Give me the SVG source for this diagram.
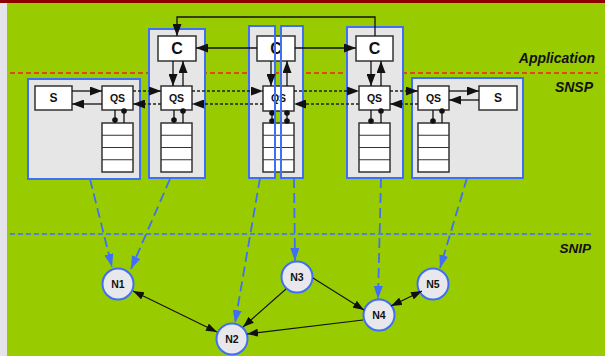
<svg xmlns="http://www.w3.org/2000/svg" width="605" height="356" viewBox="0 0 605 356">
  <defs>
    <style>
      .bg { fill: #99cc00; }
      .panel { fill: #e6e6e6; stroke: none; }
      .edge { fill: none; stroke: #3f6ff5; stroke-width: 2; }
      .blk { fill: #ffffff; stroke: #333333; stroke-width: 1.5; }
      .cell { fill: none; stroke: #333333; stroke-width: 1.2; }
      .lbl { font-family: "Liberation Sans", Arial, sans-serif; font-weight: bold; fill: #111111; text-anchor: middle; }
      .layer { font-family: "Liberation Sans", Arial, sans-serif; font-weight: bold; font-style: italic; font-size: 14px; fill: #111111; text-anchor: end; }
      .solid { fill: none; stroke: #111111; stroke-width: 1.3; }
      .dot { fill: none; stroke: #222222; stroke-width: 1.3; stroke-dasharray: 3 2; }
      .map { fill: none; stroke: #3f6ff5; stroke-width: 1.8; stroke-dasharray: 10 5; }
      .net { fill: none; stroke: #111111; stroke-width: 1.1; }
      .node { fill: #e8e8ec; stroke: #3f6ff5; stroke-width: 2; }
      .pin { fill: #111111; }
    </style>
    <marker id="ah" viewBox="0 0 12 9" refX="12" refY="4.5" markerWidth="12" markerHeight="9" markerUnits="userSpaceOnUse" orient="auto-start-reverse">
      <path d="M0,0 L12,4.5 L0,9 z" fill="#111111"/>
    </marker>
    <marker id="ahs" viewBox="0 0 11 8" refX="11" refY="4" markerWidth="11" markerHeight="8" markerUnits="userSpaceOnUse" orient="auto-start-reverse">
      <path d="M0,0 L11,4 L0,8 z" fill="#111111"/>
    </marker>
    <marker id="ahb" viewBox="0 0 13 9" refX="13" refY="4.5" markerWidth="13" markerHeight="9" markerUnits="userSpaceOnUse" orient="auto">
      <path d="M0,0 L13,4.5 L0,9 z" fill="#3f6ff5"/>
    </marker>
  </defs>

  <!-- page background -->
  <rect x="0" y="0" width="605" height="356" fill="#e4e4ea"/>
  <rect x="7" y="2" width="598" height="354" class="bg"/>
  <rect x="0" y="0" width="605" height="3" fill="#8b0000"/>

  <!-- layer separators and names -->
  <line x1="10" y1="73" x2="598" y2="73" stroke="#ee2222" stroke-width="1.4" stroke-dasharray="5 3"/>
  <line x1="10" y1="234" x2="594" y2="234" stroke="#3f6ff5" stroke-width="1.3" stroke-dasharray="5 3"/>
  <text class="layer" x="595" y="63">Application</text>
  <text class="layer" x="593" y="92">SNSP</text>
  <text class="layer" x="591" y="253" style="font-size:13.5px">SNIP</text>

  <!-- panel backgrounds -->
  <rect class="panel" x="28" y="79" width="112" height="100"/>
  <rect class="panel" x="149" y="29" width="56" height="149"/>
  <rect class="panel" x="249" y="26" width="26" height="152"/>
  <rect class="panel" x="281" y="26" width="22" height="152"/>
  <rect class="panel" x="347" y="27" width="56" height="151"/>
  <rect class="panel" x="412" y="78" width="111" height="100"/>

  <!-- left sensor panel -->
  <g id="sensor-left">
    <rect class="edge" x="28" y="79" width="112" height="100"/>
    <rect class="blk" x="35" y="86" width="37" height="24"/>
    <text class="lbl" x="53.5" y="102" style="font-size:12px">S</text>
    <rect class="blk" x="102" y="86" width="31" height="24"/>
    <text class="lbl" x="117.5" y="101.5" style="font-size:10.5px">QS</text>
    <rect class="blk" x="102" y="123" width="31" height="49"/>
    <path class="cell" d="M102,135.25 H133 M102,147.5 H133 M102,159.75 H133"/>
    <path class="solid" d="M115,110 V123 M124,110 V123"/>
    <circle class="pin" cx="115" cy="120" r="2.8"/>
    <circle class="pin" cx="124" cy="111" r="2.8"/>
  </g>

  <!-- left consumer column -->
  <g id="consumer-left">
    <rect class="edge" x="149" y="29" width="56" height="149"/>
    <rect class="blk" x="158" y="36" width="38" height="25"/>
    <text class="lbl" x="177" y="54" style="font-size:16px">C</text>
    <rect class="blk" x="161" y="86" width="31" height="24"/>
    <text class="lbl" x="176.5" y="101.5" style="font-size:10.5px">QS</text>
    <rect class="blk" x="161" y="123" width="31" height="49"/>
    <path class="cell" d="M161,135.25 H192 M161,147.5 H192 M161,159.75 H192"/>
    <path class="solid" d="M174,110 V123 M183,110 V123"/>
    <circle class="pin" cx="174" cy="120" r="2.8"/>
    <circle class="pin" cx="183" cy="111" r="2.8"/>
  </g>

  <!-- middle consumer column (split panel) -->
  <g id="consumer-mid">
    <rect class="blk" x="257" y="36" width="38" height="25"/>
    <text class="lbl" x="276" y="54" style="font-size:16px">C</text>
    <rect class="blk" x="263" y="86" width="31" height="25"/>
    <text class="lbl" x="278.5" y="102" style="font-size:10.5px">QS</text>
    <rect class="blk" x="263" y="123" width="31" height="49"/>
    <path class="cell" d="M263,135.25 H294 M263,147.5 H294 M263,159.75 H294"/>
    <path class="solid" d="M272,111 V123 M287,111 V123"/>
    <circle class="pin" cx="272" cy="113" r="2.8"/>
    <circle class="pin" cx="272" cy="121" r="2.8"/>
    <circle class="pin" cx="287" cy="113" r="2.8"/>
    <circle class="pin" cx="287" cy="121" r="2.8"/>
    <rect class="edge" x="249" y="26" width="26" height="152"/>
    <rect class="edge" x="281" y="26" width="22" height="152"/>
  </g>

  <!-- right consumer column -->
  <g id="consumer-right">
    <rect class="edge" x="347" y="27" width="56" height="151"/>
    <rect class="blk" x="356" y="36" width="37" height="25"/>
    <text class="lbl" x="374.5" y="54" style="font-size:16px">C</text>
    <rect class="blk" x="359" y="86" width="31" height="24"/>
    <text class="lbl" x="374.5" y="101.5" style="font-size:10.5px">QS</text>
    <rect class="blk" x="359" y="123" width="31" height="49"/>
    <path class="cell" d="M359,135.25 H390 M359,147.5 H390 M359,159.75 H390"/>
    <path class="solid" d="M371,110 V123 M381,110 V123"/>
    <circle class="pin" cx="371" cy="121" r="2.8"/>
    <circle class="pin" cx="381" cy="111" r="2.8"/>
  </g>

  <!-- right sensor panel -->
  <g id="sensor-right">
    <rect class="edge" x="412" y="78" width="111" height="100"/>
    <rect class="blk" x="418" y="86" width="31" height="24"/>
    <text class="lbl" x="433.5" y="101.5" style="font-size:10.5px">QS</text>
    <rect class="blk" x="479" y="86" width="38" height="24"/>
    <text class="lbl" x="498" y="102" style="font-size:12px">S</text>
    <rect class="blk" x="418" y="123" width="31" height="49"/>
    <path class="cell" d="M418,135.25 H449 M418,147.5 H449 M418,159.75 H449"/>
    <path class="solid" d="M433,110 V123 M442,110 V123"/>
    <circle class="pin" cx="433" cy="121" r="2.8"/>
    <circle class="pin" cx="442" cy="111" r="2.8"/>
  </g>

  <!-- network nodes -->
  <g id="N1"><circle class="node" cx="118" cy="284" r="15.5"/><text class="lbl" x="118" y="288" style="font-size:10.5px">N1</text></g>
  <g id="N2"><circle class="node" cx="232" cy="339" r="15.5"/><text class="lbl" x="232" y="343" style="font-size:10.5px">N2</text></g>
  <g id="N3"><circle class="node" cx="297" cy="277" r="15.5"/><text class="lbl" x="297" y="281" style="font-size:10.5px">N3</text></g>
  <g id="N4"><circle class="node" cx="379" cy="315" r="15.5"/><text class="lbl" x="379" y="319" style="font-size:10.5px">N4</text></g>
  <g id="N5"><circle class="node" cx="433" cy="284" r="15.5"/><text class="lbl" x="433" y="288" style="font-size:10.5px">N5</text></g>

  <g id="connectors">
    <!-- consumer control links -->
    <path class="solid" d="M375,36 V17 H177 V36" marker-end="url(#ah)"/>
    <path class="solid" d="M257,48 H196" marker-end="url(#ah)"/>
    <path class="solid" d="M295,48 H356" marker-end="url(#ah)"/>
    <!-- C / QS links -->
    <path class="solid" d="M173,61 V86" marker-end="url(#ah)"/>
    <path class="solid" d="M183,86 V61" marker-end="url(#ah)"/>
    <path class="solid" d="M271,61 V86" marker-end="url(#ah)"/>
    <path class="solid" d="M287,86 V61" marker-end="url(#ah)"/>
    <path class="solid" d="M371,61 V86" marker-end="url(#ah)"/>
    <path class="solid" d="M381,86 V61" marker-end="url(#ah)"/>
    <!-- S / QS links -->
    <path class="solid" d="M72,91 H102" marker-end="url(#ah)"/>
    <path class="solid" d="M102,104 H72" marker-end="url(#ah)"/>
    <path class="solid" d="M449,91 H479" marker-end="url(#ah)"/>
    <path class="solid" d="M479,100 H449" marker-end="url(#ah)"/>
    <!-- QS to QS exchange -->
    <path class="dot" d="M133,91 H161" marker-end="url(#ah)"/>
    <path class="dot" d="M192,91 H263" marker-end="url(#ah)"/>
    <path class="dot" d="M294,91 H359" marker-end="url(#ah)"/>
    <path class="dot" d="M390,91 H418" marker-end="url(#ah)"/>
    <path class="dot" d="M161,104 H133" marker-end="url(#ah)"/>
    <path class="dot" d="M263,104 H192" marker-end="url(#ah)"/>
    <path class="dot" d="M359,104 H294" marker-end="url(#ah)"/>
    <path class="dot" d="M418,104 H390" marker-end="url(#ah)"/>
    <!-- mapping to network nodes -->
    <path class="map" d="M90,179 L112,267" marker-end="url(#ahb)"/>
    <path class="map" d="M170,179 L131,269" marker-end="url(#ahb)"/>
    <path class="map" d="M260,178 L235,323" marker-end="url(#ahb)"/>
    <path class="map" d="M294,178 L295,261" marker-end="url(#ahb)"/>
    <path class="map" d="M381,178 L378,299" marker-end="url(#ahb)"/>
    <path class="map" d="M467,178 L440,268" marker-end="url(#ahb)"/>
    <!-- network links -->
    <path class="net" d="M133,291 L217,332" marker-start="url(#ahs)" marker-end="url(#ahs)"/>
    <path class="net" d="M286,289 L243,327" marker-end="url(#ahs)"/>
    <path class="net" d="M363,320 L247,334" marker-end="url(#ahs)"/>
    <path class="net" d="M313,278 L364,310" marker-end="url(#ahs)"/>
    <path class="net" d="M391,306 L422,291" marker-start="url(#ahs)" marker-end="url(#ahs)"/>
  </g>
</svg>
